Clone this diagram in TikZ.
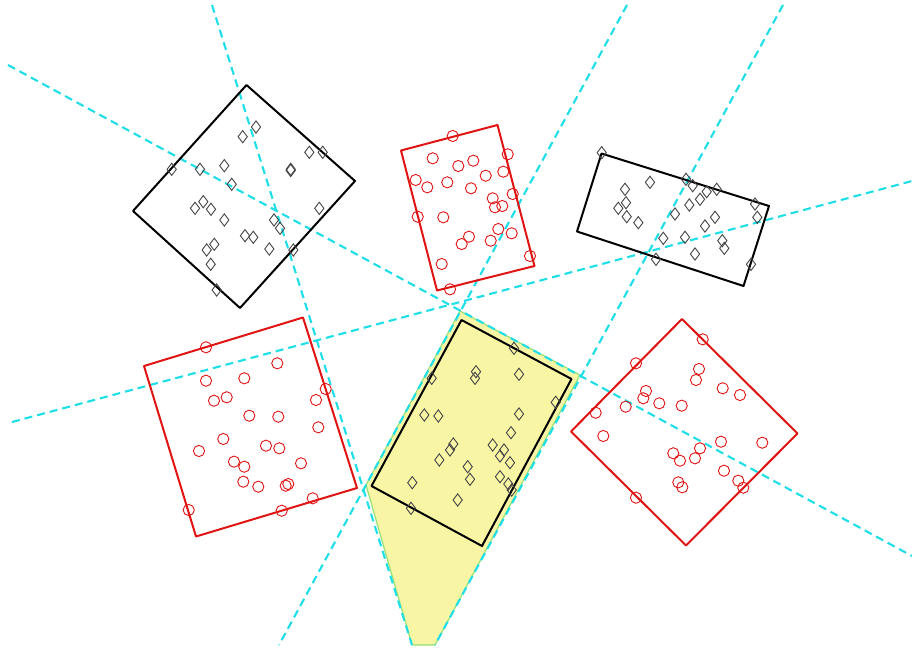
\documentclass[tikz,border=0pt]{standalone}
\usetikzlibrary{shapes.geometric}
\definecolor{cyanline}{RGB}{30,222,232}
\definecolor{redbox}{RGB}{225,20,20}
\definecolor{yel}{RGB}{248,245,165}
\definecolor{grn}{RGB}{150,225,120}
\definecolor{dgray}{RGB}{70,70,70}
\begin{document}
\begin{tikzpicture}[x=0.5pt,y=-0.5pt,
  cutline/.style={draw=cyanline, line width=1.05pt, dash pattern=on 4pt off 2.5pt},
  blackbox/.style={draw=black, line width=1pt, line join=round},
  redrect/.style={draw=redbox, line width=1pt, line join=round},
  dmark/.style={diamond, draw=dgray, line width=0.45pt, minimum width=4.8pt, minimum height=6.3pt, inner sep=0pt},
  cmark/.style={circle, draw=redbox, line width=0.45pt, minimum size=5.6pt, inner sep=0pt}]
\useasboundingbox (0,0) rectangle (912,648);
\fill[white] (0,0) rectangle (912,648);

% yellow region
\filldraw[fill=yel, draw=grn, line width=0.6pt] (460,311) -- (580,375) -- (435,645) -- (412,645) -- (366,485) -- cycle;

% cutting lines
\coordinate (a1) at (8,65);   \coordinate (b1) at (912,556);
\coordinate (a2) at (212,5);  \coordinate (b2) at (412,645);
\coordinate (a3) at (627,5);  \coordinate (b3) at (279,645);
\coordinate (a4) at (783,5);  \coordinate (b4) at (435,645);
\coordinate (a5) at (12,422); \coordinate (b5) at (912,181);
\foreach \i in {1,...,5} \draw[cutline] (a\i) -- (b\i);

% boxes
\draw[blackbox] (246.5,85) -- (355,181) -- (240,308) -- (133,211) -- cycle;
\draw[redrect] (401,150.5) -- (497.5,125) -- (534.5,266) -- (437,290.5) -- cycle;
\draw[blackbox] (601.5,153.5) -- (769,206) -- (743.5,286) -- (577,231.5) -- cycle;
\draw[redrect] (144,366) -- (303,317.5) -- (357,488) -- (196,536.5) -- cycle;
\draw[blackbox] (461.5,320) -- (571.5,379) -- (482,546) -- (371.5,486) -- cycle;
\draw[redrect] (682,319) -- (797.5,433.5) -- (686,545.5) -- (571,431.5) -- cycle;

% diamonds, box 1
\foreach \p in {(256,127),(242.7,136.7),(309.3,152.3),(322.7,152.3),(171.7,169.3),(200,169.3),(224.3,165.7),(290.7,169.3),(290.7,170.5),(231.7,184.3),(195,208.3),(203.3,201.7),(211,209.3),(224.3,220),(319.3,208.3),(274,220),(280,228.3),(245,235.7),(253.3,237.3),(269.3,249),(293.3,250),(206.7,250),(214.3,244.3),(210.7,264.3),(216.7,290)}
  \node[dmark] at \p {};
% diamonds, box 3
\foreach \p in {(601.7,152.7),(650,182.3),(625,189.3),(626,202.7),(618.3,208.3),(626.7,216.7),(638.3,222.7),(686,179.3),(692.7,185.7),(706.7,191.7),(716.7,189.3),(700,199.3),(689.3,205),(675,214),(715,217.3),(705,226),(755,204),(757.3,217.3),(663.3,238.3),(685,237.3),(722.3,240.7),(724.3,248.3),(695,254),(656,259.3),(751,264.3)}
  \node[dmark] at \p {};
% diamonds, box 5
\foreach \p in {(514,348.3),(476,371.7),(475,378.3),(519,374.3),(431.7,378.3),(555.7,402.3),(424.3,415),(438.3,416),(519,414),(511,432.7),(453.3,444),(450,450),(492.7,445),(504,450),(500,456),(510,462.7),(439.3,460),(467.7,466.7),(470,479.3),(500,476.7),(508.3,484),(511.7,490),(412.3,482.7),(457.7,500),(411,508.3)}
  \node[dmark] at \p {};

% circles, box 2
\foreach \p in {(452.7,136),(507.7,154.3),(432.7,158.3),(458.3,166),(473.3,160.7),(485.7,175.7),(503.3,171.7),(415.7,180),(427.3,187.3),(447.3,182.3),(471,188.3),(512.7,194),(492.7,198.3),(495,207.3),(502.3,206),(417.7,216.7),(443.3,217.3),(498.3,229),(511.7,233.3),(469,236.7),(461.7,244),(490.7,240.7),(530,256),(441.7,264),(450,289.3)}
  \node[cmark] at \p {};
% circles, box 4
\foreach \p in {(206,347.3),(277.3,363.3),(206,380.7),(244.3,378.3),(325.7,389),(214,400.7),(226.7,397.3),(316,400),(249.3,415.7),(278.3,416.7),(318.3,427.3),(223.3,439),(266,445.7),(279.3,448.3),(199,451),(234,461.7),(244.3,466.7),(301,463.3),(243.3,481.7),(258.3,486.7),(285.7,485.7),(288.3,484),(312.7,498.3),(281.7,510.7),(188.7,510)}
  \node[cmark] at \p {};
% circles, box 6
\foreach \p in {(702.7,339.3),(636,363.3),(699,369),(696,380),(722.7,388.3),(740,395),(646,391),(643.3,398.3),(625.7,406.7),(659.3,403.3),(681.7,405.7),(595.7,412.7),(603.3,436),(721,441.7),(762.3,442.7),(673.3,453.3),(680,460.7),(700,448.3),(695,458.3),(724,470.7),(738.3,480.7),(743.3,487.7),(678.3,482.3),(682.3,487.3),(636,497.7)}
  \node[cmark] at \p {};
\end{tikzpicture}
\end{document}
